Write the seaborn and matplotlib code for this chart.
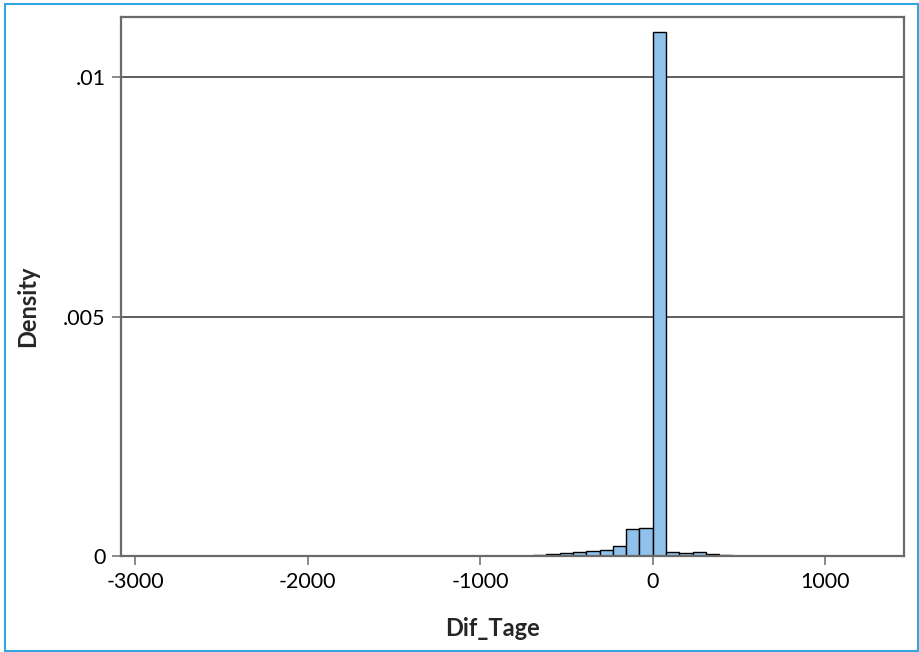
import numpy as np
import pandas as pd
import matplotlib
matplotlib.use("Agg")
import matplotlib.pyplot as plt
from matplotlib.patches import Rectangle
import seaborn as sns

# ---- data ----
bin_width = 77
first_bin = -39          # bin index k: edges k*77 .. (k+1)*77
densities = [
    0, 0, 0, 0, 0, 0,                      # k=-39..-34
    0, 0.000003, 0.000003, 0, 0.000003,    # k=-33..-29
    0, 0, 0, 0, 0, 0,                      # k=-28..-23
    0.000003, 0.000002, 0.000003, 0.000003, 0.000004, 0.000004,   # k=-22..-17
    0.000005, 0.000005, 0.000006, 0.000007, 0.000008,             # k=-16..-12
    0.000009, 0.00001, 0.00002, 0.000042, 0.000063, 0.000084,     # k=-11..-6
    0.0001, 0.00012, 0.0002, 0.000557, 0.000578,                  # k=-5..-1
    0.01095,                                                      # k=0
    0.000077, 0.000056, 0.00009, 0.000035, 0.000015,              # k=1..5
    0.000004, 0.000003, 0.000003, 0.000002, 0.000003, 0.000002,   # k=6..11
    0.000002, 0.000002, 0.000002, 0.000002, 0.000002, 0.000002,   # k=12..17
]
x_ticks = [-3000, -2000, -1000, 0, 1000]
x_tick_labels = ["-3000", "-2000", "-1000", "0", "1000"]
y_ticks = [0, 0.005, 0.01]
y_tick_labels = ["0", ".005", ".01"]
x_label = "Dif_Tage"
y_label = "Density"

n = len(densities)
lo = first_bin * bin_width
hi = (first_bin + n) * bin_width
centers = lo + bin_width * (np.arange(n) + 0.5)
df = pd.DataFrame({"Dif_Tage": centers, "w": densities})

sns.set_theme(style="white")
plt.rcParams["font.family"] = ["Lato", "DejaVu Sans"]

fig = plt.figure(figsize=(9.19, 6.52), dpi=100)
ax = fig.add_axes([121 / 919, (652 - 556) / 652, (904 - 121) / 919, (556 - 16.7) / 652])

grid_c = "#5e5e5e"
frame_c = "#6a6a6a"
for yv in y_ticks[1:]:
    ax.axhline(yv, color=grid_c, lw=1.4, zorder=0)

sns.histplot(data=df, x="Dif_Tage", weights="w", binwidth=bin_width, binrange=(lo, hi),
             stat="count", color="#90c1ea", alpha=1, edgecolor="black", linewidth=1.0,
             ax=ax, zorder=2)

ax.set_xlim(-3081, 1456)
ax.set_ylim(0, 0.01126)
ax.set_xticks(x_ticks)
ax.set_xticklabels(x_tick_labels)
ax.set_yticks(y_ticks)
ax.set_yticklabels(y_tick_labels)
ax.tick_params(axis="both", which="major", direction="out", length=6.2, width=1.1,
               color=frame_c, labelsize=15.5, pad=5, labelcolor="black")
ax.tick_params(axis="x", bottom=True)
ax.tick_params(axis="y", left=True)

for s in ax.spines.values():
    s.set_visible(True)
    s.set_color(frame_c)
    s.set_linewidth(1.6)

ax.set_xlabel(x_label, fontsize=17, fontweight="bold")
ax.set_ylabel(y_label, fontsize=17, fontweight="bold")
ax.xaxis.set_label_coords((493 - 121) / 783, (556 - 617) / 539.3)
ax.yaxis.set_label_coords((39 - 121) / 783, (556 - 306) / 539.3)

fig.patches.append(Rectangle((5 / 919, 1.5 / 652), (917.5 - 5) / 919, (648 - 1.5) / 652,
                             transform=fig.transFigure, fill=False,
                             edgecolor="#33a6df", linewidth=1.5))

fig.savefig("out.png", dpi=100)
